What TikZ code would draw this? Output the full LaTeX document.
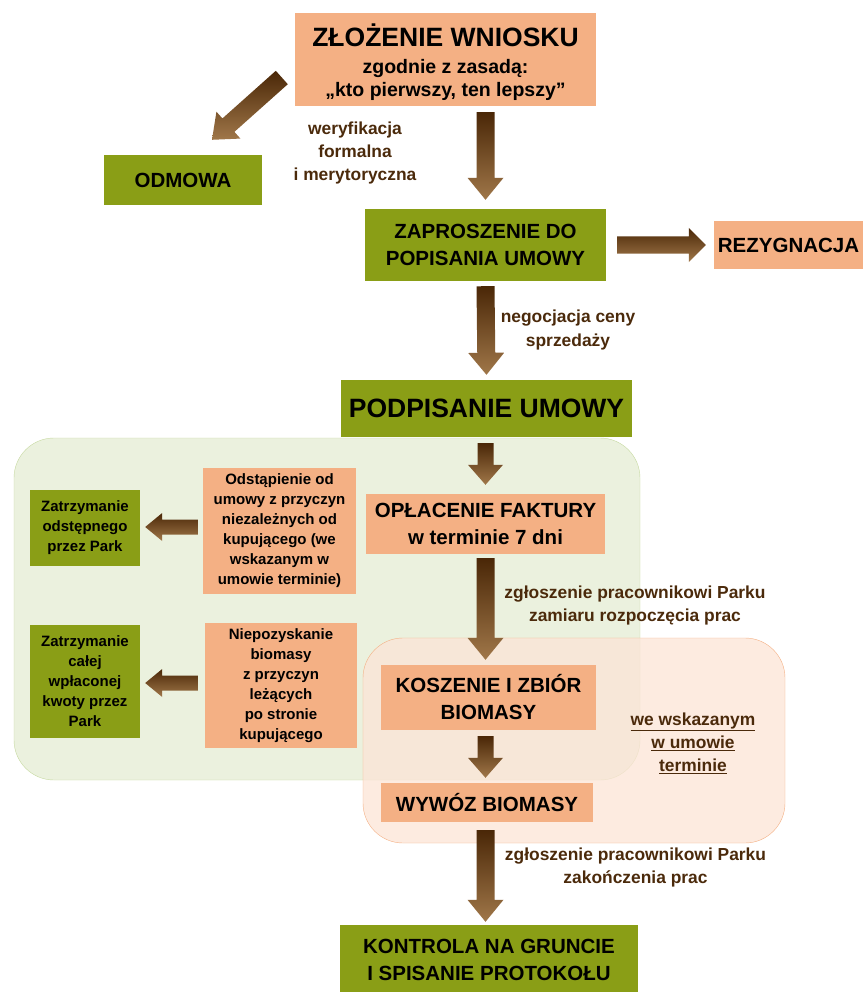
\documentclass[tikz,border=0pt]{standalone}
\usepackage{fontspec}
\setmainfont{Liberation Sans}
\usetikzlibrary{calc}
\definecolor{zielony}{HTML}{8A9E16}
\definecolor{pomar}{HTML}{F4B084}
\definecolor{tloziel}{HTML}{EBF1DE}
\definecolor{ramziel}{HTML}{C6D9A0}
\definecolor{tlopom}{HTML}{FCE4D6}
\definecolor{rampom}{HTML}{F4B084}
\definecolor{brciemny}{HTML}{4A2707}
\definecolor{brjasny}{HTML}{A07749}
\definecolor{brtekst}{HTML}{4B2A0B}
\tikzset{
	zbox/.style={fill=zielony, align=center, inner sep=2pt, font=\bfseries\fontsize{20.5}{27}\selectfont},
	pbox/.style={fill=pomar, align=center, inner sep=2pt, font=\bfseries\fontsize{20.5}{27}\selectfont},
	maly/.style={font=\bfseries\fontsize{15}{20}\selectfont},
	opis/.style={text=brtekst, align=center, font=\bfseries\fontsize{17.4}{23}\selectfont}
}
%% Strzałka blokowa: #1 początek, #2 koniec, #3 pół trzonu, #4 pół grotu, #5 długość grotu
\newcommand{\strzalka}[5]{%
	\path #1 coordinate (s0) #2 coordinate (e0);
	\coordinate (h0) at ($(e0)!#5!(s0)$);
	\shade[top color=brciemny, bottom color=brjasny]
	($(s0)!#3!90:(e0)$) -- ($(h0)!#3!90:(e0)$) -- ($(h0)!#4!90:(e0)$) -- (e0)
	-- ($(h0)!#4!-90:(e0)$) -- ($(h0)!#3!-90:(e0)$) -- ($(s0)!#3!-90:(e0)$) -- cycle;
}
\begin{document}
\begin{tikzpicture}[x=1pt, y=-1pt, line join=round]
	\useasboundingbox (0,0) rectangle (863,992);
	%% Tła grup
	\draw [ramziel, fill=tloziel, rounded corners=40pt] (14,438) rectangle (640,780);
	\draw [rampom, fill=tlopom, fill opacity=0.75, rounded corners=40pt] (363,638) rectangle (785,843);
	%% Pola
	\node [pbox, minimum width=301pt, minimum height=93pt] (zl) at (445.5,59.5) {};
	\node [align=center, font=\bfseries\fontsize{19.5}{23.5}\selectfont] (zlt) at ($(zl)+(0,3)$)
	{{\fontsize{26.5}{30}\selectfont ZŁOŻENIE WNIOSKU}\\[3pt]
		zgodnie z zasadą:\\ „kto pierwszy, ten lepszy”};
	\node [zbox, minimum width=158pt, minimum height=50pt] (odm) at (183,180) {ODMOWA};
	\node [zbox, minimum width=241pt, minimum height=72pt] (zap) at (485.5,245) {ZAPROSZENIE DO\\POPISANIA UMOWY};
	\node [pbox, minimum width=149pt, minimum height=48pt] (rez) at (788.5,245) {REZYGNACJA};
	\node [zbox, minimum width=291pt, minimum height=57pt, font=\bfseries\fontsize{26.5}{30}\selectfont] (pod) at (486.5,408.5) {PODPISANIE UMOWY};
	\node [pbox, minimum width=239pt, minimum height=60pt] (opl) at (485.5,524) {OPŁACENIE FAKTURY\\w terminie 7 dni};
	\node [pbox, maly, minimum width=153pt, minimum height=126pt] (ods) at (279.5,531)
	{Odstąpienie od\\umowy z przyczyn\\niezależnych od\\kupującego (we\\wskazanym w\\umowie terminie)};
	\node [zbox, maly, minimum width=110pt, minimum height=76pt] (zod) at (85,528) {Zatrzymanie\\odstępnego\\przez Park};
	\node [pbox, maly, minimum width=152pt, minimum height=125pt] (nie) at (281,685.5)
	{Niepozyskanie\\biomasy\\z przyczyn\\leżących\\po stronie\\kupującego};
	\node [zbox, maly, minimum width=110pt, minimum height=113pt] (zca) at (85,681.5) {Zatrzymanie\\całej\\wpłaconej\\kwoty przez\\Park};
	\node [pbox, minimum width=215pt, minimum height=65pt] (kos) at (488.5,697.5) {KOSZENIE I ZBIÓR\\BIOMASY};
	\node [pbox, minimum width=212pt, minimum height=39pt] (wyw) at (487,802.5) {WYWÓZ BIOMASY};
	\node [zbox, minimum width=298pt, minimum height=70pt] (kon) at (489,960) {KONTROLA NA GRUNCIE\\I SPISANIE PROTOKOŁU};
	%% Opisy
	\node [opis] (wer) at (355,153) {weryfikacja\\formalna\\i merytoryczna};
	\node [opis] (neg) at (568,330) {negocjacja ceny\\sprzedaży};
	\node [opis] (zg1) at (635,605) {zgłoszenie pracownikowi Parku\\zamiaru rozpoczęcia prac};
	\node [opis] (wsk) at (693,743) {\underline{we wskazanym}\\\underline{w umowie}\\\underline{terminie}};
	\node [opis] (zg2) at (635.5,867) {zgłoszenie pracownikowi Parku\\zakończenia prac};
	%% Strzałki
	\strzalka{($(zl.west)+(-13,18)$)}{($(odm.north)+(29,-15)$)}{9pt}{18pt}{22pt}
	\strzalka{($(zl.south -| zap.north)+(0,6)$)}{($(zap.north)+(0,-9)$)}{9pt}{18pt}{22pt}
	\strzalka{($(zap.east)+(11,0)$)}{($(rez.west)+(-8,0)$)}{8.5pt}{17pt}{17pt}
	\strzalka{($(zap.south)+(0,5)$)}{($(pod.north)+(0,-5)$)}{9pt}{18pt}{22pt}
	\strzalka{($(pod.south -| opl.north)+(0,6)$)}{($(opl.north)+(0,-9)$)}{8pt}{17.5pt}{20pt}
	\strzalka{($(opl.south)+(0,4)$)}{($(kos.north -| opl.south)+(0,-5)$)}{9pt}{18pt}{22pt}
	\strzalka{($(kos.south -| opl.south)+(0,6)$)}{($(wyw.north -| opl.south)+(0,-5)$)}{8pt}{17.5pt}{20pt}
	\strzalka{($(wyw.south -| opl.south)+(0,8)$)}{($(kon.north -| opl.south)+(0,-3)$)}{9pt}{18pt}{22pt}
	\strzalka{($(ods.west)+(-5,-4)$)}{($(zod.east)+(5,-1)$)}{7.5pt}{14pt}{17pt}
	\strzalka{($(nie.west)+(-7,-2.5)$)}{($(zca.east)+(5,1.5)$)}{7.5pt}{14pt}{17pt}
\end{tikzpicture}
\end{document}
